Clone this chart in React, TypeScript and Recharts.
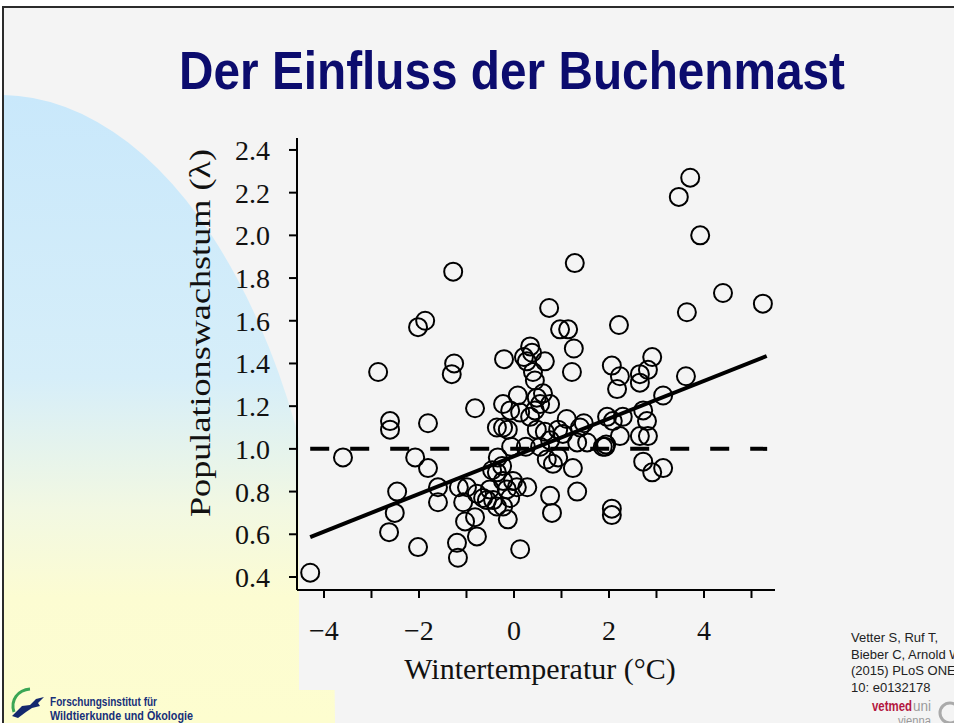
import React from 'react';
import { ScatterChart, Scatter, XAxis, YAxis, ReferenceLine, Label } from 'recharts';

// Winter temperature (°C) of each observation
const tempX = [
  3.71, 3.47, 3.92, 4.40, 5.24, 3.64, 1.28, -1.28, -2.02, -1.87,
  0.74, 0.97, 1.14, 1.26, 2.21, 3.62, 2.91, 2.82, 2.06, -2.86,
  -1.26, -1.31, -0.21, 0.34, 0.38, 0.21, 0.27, 0.65, 1.22, 2.23,
  2.17, 2.65, 2.65, 3.14, 0.40, 0.44, 0.48, 0.08, 0.61, 0.55,
  0.76, -0.82, -0.23, -0.08, 0.13, 0.44, -2.61, -2.61, -1.81, -0.36,
  -0.23, -0.13, 0.48, -0.06, 0.25, 0.65, 0.93, 1.03, 1.39, 1.47,
  1.96, 2.08, 2.29, 2.23, 2.72, 2.80, 0.76, 1.33, 1.54, 1.87,
  1.92, 1.94, 2.65, 2.82, -3.60, -2.08, -1.81, -0.34, -0.46, -0.25,
  0.69, 0.82, 0.93, 1.24, 2.72, 2.91, 3.14, -2.46, -2.51, -2.63,
  -2.02, -1.60, -1.60, -1.20, -1.18, -1.16, -1.07, -1.03, -0.82, -0.78,
  -0.99, -0.78, -0.65, -0.51, -0.57, -0.44, -0.36, -0.23, -0.36, -0.23,
  -0.15, -0.08, -0.02, 0.06, -0.13, 0.28, 0.13, 0.76, 0.80, 1.33,
  2.06, 2.06, -4.29, 1.11, 0.34, 0.55,
];

// Population growth rate (lambda) of each observation
const lambdaY = [
  2.27, 2.18, 2.00, 1.73, 1.68, 1.64, 1.87, 1.83, 1.57, 1.60,
  1.66, 1.56, 1.56, 1.47, 1.58, 1.34, 1.43, 1.37, 1.39, 1.36,
  1.40, 1.35, 1.42, 1.48, 1.45, 1.43, 1.41, 1.41, 1.36, 1.34,
  1.28, 1.35, 1.31, 1.25, 1.36, 1.32, 1.24, 1.25, 1.26, 1.21,
  1.21, 1.19, 1.21, 1.18, 1.17, 1.18, 1.13, 1.09, 1.12, 1.10,
  1.10, 1.09, 1.09, 1.01, 1.01, 1.08, 1.09, 1.07, 1.10, 1.12,
  1.15, 1.13, 1.15, 1.06, 1.18, 1.13, 1.04, 1.03, 1.03, 1.01,
  1.01, 1.02, 1.06, 1.06, 0.96, 0.96, 0.91, 0.96, 0.90, 0.92,
  0.95, 0.93, 0.96, 0.91, 0.94, 0.89, 0.91, 0.80, 0.70, 0.61,
  0.54, 0.82, 0.75, 0.56, 0.49, 0.82, 0.75, 0.66, 0.68, 0.59,
  0.82, 0.79, 0.77, 0.81, 0.76, 0.76, 0.73, 0.73, 0.89, 0.85,
  0.81, 0.77, 0.85, 0.82, 0.67, 0.82, 0.53, 0.78, 0.70, 0.80,
  0.72, 0.69, 0.42, 1.14, 1.15, 1.01,
];

const xTicks = [-4, -3, -2, -1, 0, 1, 2, 3, 4, 5];
const xLabelled = [-4, -2, 0, 2, 4];
const yTicks = [0.4, 0.6, 0.8, 1.0, 1.2, 1.4, 1.6, 1.8, 2.0, 2.2, 2.4];

const regressionStart = { x: -4.29, y: 0.587 };
const regressionEnd = { x: 5.32, y: 1.435 };
const nullLevel = 1.0;
const nullStartX = -4.29;
const nullEndX = 5.33;

const titleText = 'Der Einfluss der Buchenmast';
const xTitle = 'Wintertemperatur (°C)';
const yTitle = 'Populationswachstum (λ)';
const citation = ['Vetter S, Ruf T,', 'Bieber C, Arnold W', '(2015) PLoS ONE', '10: e0132178'];
const instituteLines = ['Forschungsinstitut für', 'Wildtierkunde und Ökologie'];

const points = tempX.map((x, i) => ({ x, y: lambdaY[i] }));

const SERIF = "'Liberation Serif', 'Times New Roman', 'DejaVu Serif', serif";
const SANS = "'Liberation Sans', Arial, 'DejaVu Sans', sans-serif";

const Ring = (p: any) => (
  <circle cx={p.cx} cy={p.cy} r={9} fill="none" stroke="#000" strokeWidth={2} />
);

export default function App() {
  return (
    <div style={{ position: 'fixed', left: 0, top: 0, width: 954, height: 723, overflow: 'hidden', background: '#fff' }}>
      <svg width={954} height={723} style={{ position: 'absolute', left: 0, top: 0 }}>
        <defs>
          <linearGradient id="deco" x1="0" y1="95" x2="0" y2="723" gradientUnits="userSpaceOnUse">
            <stop offset="0" stopColor="#c9e8fb" />
            <stop offset="0.45" stopColor="#d6eef9" />
            <stop offset="0.66" stopColor="#f2f8e2" />
            <stop offset="0.8" stopColor="#fcfcd2" />
            <stop offset="1" stopColor="#fdfdcf" />
          </linearGradient>
          <clipPath id="slide">
            <rect x={4} y={8} width={960} height={720} />
          </clipPath>
        </defs>
        <rect x={3} y={7} width={965} height={730} fill="#f4f4f4" stroke="#2b2b2b" strokeWidth={2} />
        <g clipPath="url(#slide)">
          <ellipse cx={0} cy={720} rx={335} ry={625} fill="url(#deco)" />
          <rect x={299} y={130} width={660} height={560} fill="#f4f4f4" />
        </g>
        <text x={179} y={89} textLength={666} lengthAdjust="spacingAndGlyphs"
          fontFamily="'Liberation Sans Narrow', 'Liberation Sans', Arial, sans-serif"
          fontWeight="bold" fontSize={54} fill="#0c0c6e">{titleText}</text>
        {citation.map((line, i) => (
          <text key={line} x={851} y={642 + i * 16.7} fontFamily={SANS} fontSize={13} fill="#222">{line}</text>
        ))}
        <text x={872} y={711} textLength={40} lengthAdjust="spacingAndGlyphs" fontFamily={SANS} fontSize={14}
          fontWeight="bold" fill="#b3163f">vetmed</text>
        <text x={913} y={711} textLength={18} lengthAdjust="spacingAndGlyphs" fontFamily={SANS} fontSize={14}
          fill="#9a9a9a">uni</text>
        <text x={898} y={725} textLength={33} lengthAdjust="spacingAndGlyphs" fontFamily={SANS} fontSize={12} fill="#9a9a9a">vienna</text>
        <circle cx={950} cy={713} r={10} fill="none" stroke="#aaa" strokeWidth={3} />
        {/* institute logo */}
        <path d="M14 712 C 10 700, 18 690, 30 689" fill="none" stroke="#3aa655" strokeWidth={3} />
        <path d="M12 716 L22 706 L30 705 L36 699 L44 697 L38 703 L40 706 L32 708 L26 712 L18 718 Z" fill="#14286e" />
        {instituteLines.map((line, i) => (
          <text key={line} x={50} y={706 + i * 14} textLength={i === 0 ? 107 : 143} lengthAdjust="spacingAndGlyphs"
            fontFamily={SANS} fontWeight="bold" fontSize={12.5} fill="#17307a">{line}</text>
        ))}
      </svg>
      <ScatterChart width={954} height={723} margin={{ top: 138, right: 179, bottom: 93, left: 237 }}
        style={{ position: 'absolute', left: 0, top: 0 }}>
        <XAxis type="number" dataKey="x" domain={[-4.568, 5.495]} allowDataOverflow ticks={xTicks}
          interval={0} height={40} tickSize={8} tickMargin={22}
          tickFormatter={(v: number) => (xLabelled.includes(v) ? (v < 0 ? '\u2212' + Math.abs(v) : String(v)) : '')}
          axisLine={{ stroke: '#000', strokeWidth: 2 }} tickLine={{ stroke: '#000', strokeWidth: 2 }}
          tick={{ fontFamily: SERIF, fontSize: 28, fill: '#111' }}>
          <Label content={() => (
            <text x={540} y={679} textAnchor="middle" fontFamily={SERIF} fontSize={30} fill="#111">{xTitle}</text>
          )} />
        </XAxis>
        <YAxis type="number" dataKey="y" domain={[0.339, 2.456]} allowDataOverflow ticks={yTicks}
          interval={0} width={60} tickSize={8} tickMargin={19}
          tickFormatter={(v: number) => v.toFixed(1)}
          axisLine={{ stroke: '#000', strokeWidth: 2 }} tickLine={{ stroke: '#000', strokeWidth: 2 }}
          tick={{ fontFamily: SERIF, fontSize: 28, fill: '#111' }}>
          <Label content={() => (
            <text x={210} y={333} transform="rotate(-90 210 333)" textAnchor="middle" textLength={368}
              lengthAdjust="spacingAndGlyphs" fontFamily={SERIF} fontSize={30} fill="#111">{yTitle}</text>
          )} />
        </YAxis>
        <ReferenceLine segment={[{ x: nullStartX, y: nullLevel }, { x: nullEndX, y: nullLevel }]}
          stroke="#000" strokeWidth={4} strokeDasharray="19 21" />
        <ReferenceLine segment={[regressionStart, regressionEnd]} stroke="#000" strokeWidth={4} />
        <Scatter data={points} shape={Ring} isAnimationActive={false} />
      </ScatterChart>
    </div>
  );
}
